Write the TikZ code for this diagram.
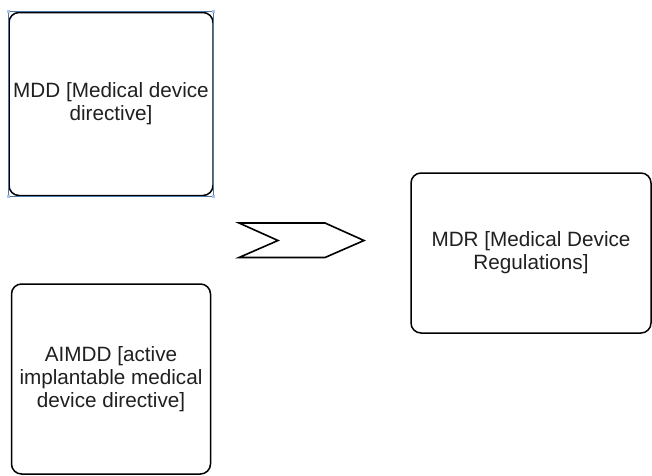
\documentclass[tikz,border=0pt]{standalone}
\usepackage{fontspec}
\setmainfont{Liberation Sans}
\definecolor{txt}{HTML}{202020}
\definecolor{sel}{HTML}{4F75A6}
\definecolor{handle}{HTML}{A9C6E8}
\begin{document}
\begin{tikzpicture}[x=1pt,y=-1pt,
  box/.style={draw=black, line width=1.5pt, rounded corners=10pt, fill=white,
    text=txt, align=center, inner sep=0pt,
    font=\fontsize{20.7}{23}\selectfont},
  chev/.style={draw=black, line width=1.6pt, line join=miter}]
\useasboundingbox (0,0) rectangle (652,475);
\clip (0,0) rectangle (652,475);
% MDD box (selected)
\node[box, minimum width=204pt, minimum height=183pt] (mdd) at (111,104)
  {MDD [Medical device\\directive]};
\draw[sel, line width=1.4pt] (mdd.north west) rectangle (mdd.south east);
\foreach \c in {north west, north east, south west, south east}
  \fill[handle] (mdd.\c) ++(-1.5,-1.5) rectangle ++(3,3);
% AIMDD box
\node[box, minimum width=199pt, minimum height=190pt] (aimdd) at (111,379)
  {AIMDD [active\\implantable medical\\device directive]};
% MDR box
\node[box, minimum width=240pt, minimum height=160pt] (mdr) at (531,253)
  {MDR [Medical Device\\Regulations]};
% chevron
\coordinate (c1) at (239,223);
\coordinate (c2) at (325,223);
\coordinate (c3) at (364,240.5);
\coordinate (c4) at (325,257.5);
\coordinate (c5) at (239,257.5);
\coordinate (c6) at (278,240.5);
\draw[chev] (c1) -- (c2) -- (c3) -- (c4) -- (c5) -- (c6) -- cycle;
\end{tikzpicture}
\end{document}
